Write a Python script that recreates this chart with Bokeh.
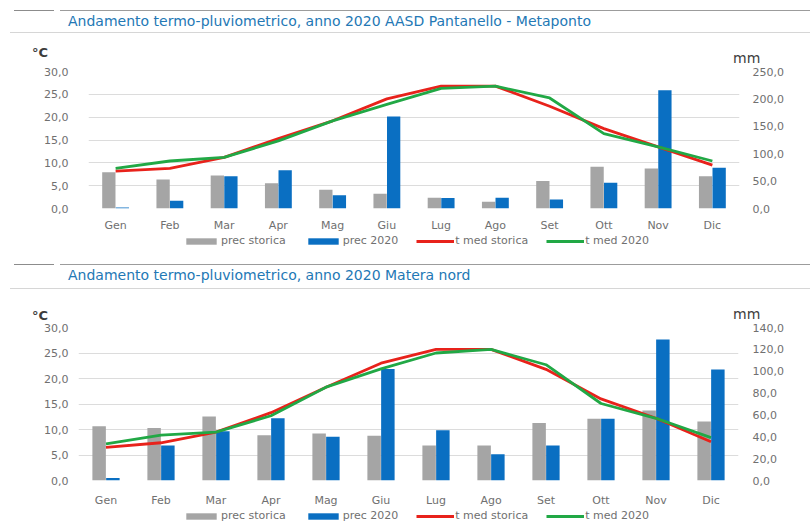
from bokeh.plotting import figure
from bokeh.models import (Range1d, FactorRange, LinearAxis, FixedTicker, CustomJSTickFormatter,
                          Legend, LegendItem, Div, ColumnDataSource)
from bokeh.transform import dodge
from bokeh.layouts import column
from bokeh.embed import file_html
from bokeh.resources import INLINE

months = ["Gen", "Feb", "Mar", "Apr", "Mag", "Giu", "Lug", "Ago", "Set", "Ott", "Nov", "Dic"]

# Chart 1: AASD Pantanello - Metaponto
title_1 = "Andamento termo-pluviometrico, anno 2020 AASD Pantanello - Metaponto"
prec_storica_1 = [66, 53, 60, 46, 34, 27, 19.5, 12.5, 50, 76, 73, 59]
prec_2020_1 = [2, 14, 59, 70, 24, 168, 19, 19.5, 16.5, 47, 216, 74.5]
t_storica_1 = [8.2, 8.8, 11.2, 15.3, 19.2, 24.0, 26.8, 26.8, 22.4, 17.5, 13.5, 9.5]
t_2020_1 = [8.8, 10.4, 11.2, 14.8, 19.2, 22.8, 26.3, 26.8, 24.2, 16.4, 13.5, 10.4]
mm_ticks_1 = [0, 50, 100, 150, 200, 250]

# Chart 2: Matera nord
title_2 = "Andamento termo-pluviometrico, anno 2020 Matera nord"
prec_storica_2 = [49.7, 48, 58.6, 41.4, 43, 41, 32, 32, 52.7, 56.5, 64, 54]
prec_2020_2 = [2.3, 32, 45, 57, 40, 102, 46, 24, 32, 56.5, 129, 101.5]
t_storica_2 = [6.5, 7.4, 9.5, 13.3, 18.3, 23.0, 25.7, 25.7, 21.8, 16.0, 12.2, 7.6]
t_2020_2 = [7.2, 8.9, 9.5, 12.7, 18.3, 21.9, 25.0, 25.7, 22.7, 15.1, 12.2, 8.4]
mm_ticks_2 = [0, 20, 40, 60, 80, 100, 120, 140]

c_ticks = [0, 5, 10, 15, 20, 25, 30]
legend_labels = ["prec storica", "prec 2020", "t med storica", "t med 2020"]

GREY = "#a5a5a5"
BLUE = "#0a6fc2"
RED = "#e8221b"
GREEN = "#21a845"
FONT = "DejaVu Sans"
TICKC = "#707070"

COMMA = CustomJSTickFormatter(code="return tick.toFixed(1).replace('.', ',');")


def header(title, h, top_line, title_cy, under_line, degc_cy, mm_cy):
    html = (
        f'<div style="position:relative;width:810px;height:{h}px;font-family:\'DejaVu Sans\';">'
        f'<div style="position:absolute;left:14px;top:{top_line}px;width:40px;height:0;'
        f'border-top:1px solid #8c8c8c;"></div>'
        f'<div style="position:absolute;left:60px;top:{top_line}px;width:750px;'
        f'height:0;border-top:1px solid #9c9c9c;"></div>'
        f'<div style="position:absolute;left:10px;top:{under_line}px;width:800px;height:0;'
        f'border-top:1px solid #d6d6d6;"></div>'
        f'<span style="position:absolute;left:68px;top:{title_cy - 9}px;line-height:18px;'
        f'font-size:14px;color:#2378b5;white-space:nowrap;">{title}</span>'
        f'<span style="position:absolute;left:32px;top:{degc_cy - 8}px;line-height:16px;'
        f'font-size:13px;font-weight:bold;color:#3c3c3c;white-space:nowrap;">°C</span>'
        f'<span style="position:absolute;left:733px;top:{mm_cy - 8}px;line-height:16px;'
        f'font-size:14px;color:#3c3c3c;white-space:nowrap;">mm</span>'
        '</div>'
    )
    return Div(text=html, width=810, height=h, margin=0)


def style_axis(a, standoff):
    a.axis_line_color = None
    a.major_tick_line_color = None
    a.minor_tick_line_color = None
    a.major_tick_out = 0
    a.minor_tick_out = 0
    a.major_label_standoff = standoff
    a.major_label_text_font = FONT
    a.major_label_text_font_size = "11px"
    a.major_label_text_color = TICKC


def draw_series(p, src, y_range_name):
    r1 = p.vbar(x=dodge("m", -0.125, range=p.x_range), top="ps", width=0.245, source=src,
                y_range_name=y_range_name, fill_color=GREY, line_color=None)
    r2 = p.vbar(x=dodge("m", 0.125, range=p.x_range), top="p20", width=0.245, source=src,
                y_range_name=y_range_name, fill_color=BLUE, line_color=None)
    r3 = p.line(x="m", y="ts", source=src, line_color=RED, line_width=2.8)
    r4 = p.line(x="m", y="t20", source=src, line_color=GREEN, line_width=2.8)
    return [r1, r2, r3, r4]


def chart(src, mm_ticks, height, b_left, b_right, b_top, b_bottom,
          lab_standoff, left_standoff, right_standoff):
    p = figure(width=810, height=height, x_range=FactorRange(*months), y_range=Range1d(0, 30),
               output_backend="svg", toolbar_location=None,
               min_border_left=b_left, min_border_right=b_right,
               min_border_top=b_top, min_border_bottom=b_bottom)
    p.outline_line_color = None
    p.extra_y_ranges = {"mm": Range1d(0, mm_ticks[-1])}
    draw_series(p, src, "mm")

    p.xgrid.grid_line_color = None
    p.ygrid.grid_line_color = "#dcdcdc"
    p.ygrid.ticker = FixedTicker(ticks=c_ticks)

    style_axis(p.xaxis[0], lab_standoff)

    ay = p.yaxis[0]
    ay.ticker = FixedTicker(ticks=c_ticks)
    ay.formatter = COMMA
    style_axis(ay, left_standoff)

    ar = LinearAxis(y_range_name="mm", ticker=FixedTicker(ticks=mm_ticks), formatter=COMMA)
    style_axis(ar, right_standoff)
    p.add_layout(ar, "right")
    return p


def legend_fig(src, height, b_left, b_right, x_off):
    # the same series, on a category axis that does not contain the months:
    # nothing is drawn in this strip except the legend
    q = figure(width=810, height=height, x_range=FactorRange("legenda"),
               y_range=Range1d(-100001, -100000),
               output_backend="svg", toolbar_location=None,
               x_axis_location=None, y_axis_location=None,
               min_border=0, min_border_left=b_left, min_border_right=b_right)
    q.extra_y_ranges = {"hid": Range1d(-100001, -100000)}
    q.grid.visible = False
    q.outline_line_color = None
    rs = draw_series(q, src, "hid")
    legend = Legend(items=[LegendItem(label=lab, renderers=[r]) for lab, r in zip(legend_labels, rs)],
                    orientation="horizontal", location=(x_off, height - 13),
                    glyph_width=38, glyph_height=8, label_height=10, label_width=10,
                    label_standoff=1, spacing=18, padding=0, margin=0,
                    border_line_color=None, background_fill_alpha=0,
                    label_text_font=FONT, label_text_font_size="11px",
                    label_text_color=TICKC)
    q.add_layout(legend)
    return q


src_1 = ColumnDataSource(dict(m=months, ps=prec_storica_1, p20=prec_2020_1,
                              ts=t_storica_1, t20=t_2020_1))
src_2 = ColumnDataSource(dict(m=months, ps=prec_storica_2, p20=prec_2020_2,
                              ts=t_storica_2, t20=t_2020_2))

h1 = header(title_1, 64, 10, 21, 32, 53, 58)
p1 = chart(src_1, mm_ticks_1, height=170, b_left=88, b_right=71, b_top=7, b_bottom=22,
           lab_standoff=10, left_standoff=20, right_standoff=13)
l1 = legend_fig(src_1, 28, 88, 71, 94)
h2 = header(title_2, 59, 2, 13, 26, 54, 52)
p2 = chart(src_2, mm_ticks_2, height=188, b_left=78, b_right=72, b_top=6, b_bottom=24,
           lab_standoff=13, left_standoff=10, right_standoff=14)
l2 = legend_fig(src_2, 20, 78, 72, 104)

layout = column(column(h1, p1, l1, spacing=0), column(h2, p2, l2, spacing=0), spacing=0)

open("out.html", "w").write(file_html(layout, INLINE))
